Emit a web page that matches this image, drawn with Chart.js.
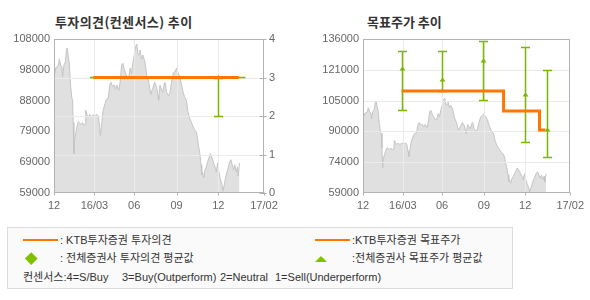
<!DOCTYPE html>
<html><head><meta charset="utf-8">
<script src="https://cdn.jsdelivr.net/npm/chart.js@4/dist/chart.umd.min.js"></script>
<style>
html,body{margin:0;padding:0;background:#fff;}
body{width:590px;height:300px;position:relative;overflow:hidden;font-family:"Liberation Sans","Noto Sans CJK KR",sans-serif;}
canvas{position:absolute;top:0;}
.title{position:absolute;top:14px;font:bold 13px "Noto Sans CJK KR",sans-serif;color:#333;line-height:15px;white-space:nowrap;}
#legend{position:absolute;left:7px;top:227px;width:504px;height:60px;border:1px solid #dcdcdc;background:#fafafa;}
.lt{position:absolute;font-size:11px;line-height:14px;color:#333;white-space:pre;}
.oline{position:absolute;height:2px;background:#ff7700;}
</style></head>
<body>
<div class="title" style="left:55px;letter-spacing:0.4px">투자의견(컨센서스) 추이</div>
<div class="title" style="left:367px">목표주가 추이</div>
<canvas id="c1" width="295" height="215" style="left:0;width:295px;height:215px"></canvas>
<canvas id="c2" width="295" height="215" style="left:295px;width:295px;height:215px"></canvas>
<div id="legend"></div>
<div class="oline" style="left:23px;top:239px;width:35px"></div>
<div class="lt" style="left:60px;top:233px">: KTB투자증권 투자의견</div>
<div class="oline" style="left:315px;top:239px;width:35px"></div>
<div class="lt" style="left:352px;top:233px">:KTB투자증권 목표주가</div>
<div style="position:absolute;left:26.5px;top:254px;width:8.5px;height:8.5px;background:#80c000;transform:rotate(45deg)"></div>
<div class="lt" style="left:60px;top:251px">: 전체증권사 투자의견 평균값</div>
<div style="position:absolute;left:315px;top:256px;width:0;height:0;border-left:6.5px solid transparent;border-right:6.5px solid transparent;border-bottom:6px solid #80c000"></div>
<div class="lt" style="left:352px;top:251px">:전체증권사 목표주가 평균값</div>
<div class="lt" style="left:23px;top:270px">컨센서스:4=S/Buy</div>
<div class="lt" style="left:122px;top:270px">3=Buy(Outperform)</div>
<div class="lt" style="left:220px;top:270px">2=Neutral</div>
<div class="lt" style="left:275px;top:270px">1=Sell(Underperform)</div>
<script>
// ---- data ----
const xTickDays   = [0, 61, 121, 185, 248, 317];
const xTickLabels = ['12', '16/03', '06', '09', '12', '17/02'];

const priceDays = [
  0,3,5,7,8,10,12,13,15,17,
  19,20,22,23,25,27,28,29,30,31,
  33,35,37,39,41,43,45,47,48,50,
  52,54,56,59,61,63,65,67,69,70,
  72,74,77,79,82,84,86,88,91,93,
  95,98,100,102,104,106,108,111,113,115,
  117,119,121,123,125,127,129,130,132,134,
  137,138,140,143,146,149,152,155,157,158,
  160,164,167,168,170,173,175,178,180,183,
  185,187,190,192,195,197,200,202,205,207,
  210,212,215,217,218,220,222,223,224,226,
  228,230,232,234,236,238,240,242,244,245,
  247,249,251,253,255,257,259,261,263,265,
  267,269,271,273,275,277,278,280];
const priceValues = [
  96000,99000,99000,100000,101600,99700,99000,96000,99700,100600,
  104800,105100,101600,100600,93300,89100,88800,81400,71500,76000,
  78200,80500,81700,81100,80800,81400,80500,80800,85300,83700,
  83300,84000,83300,83700,84000,83700,84000,83300,79800,77300,
  81000,85000,87500,88800,89100,93300,94200,93000,93300,92000,
  93300,91700,94500,99700,100300,98400,97100,95500,95800,98700,
  97100,100300,102900,105400,106400,102900,103200,104500,101600,102900,
  101000,99700,96500,94300,90400,92300,94200,92600,90000,88500,
  93300,91000,94200,93900,91000,90000,91000,94900,97100,97800,
  98700,97400,95800,93900,91000,89700,88500,85000,82700,81700,
  80100,79200,78400,76000,74000,71800,68000,64800,65700,63800,
  66400,67300,68900,70200,71500,70500,69200,68000,66700,65700,
  68600,65700,63500,62200,59600,61600,63800,65700,67000,68900,
  69600,68000,66400,68000,65700,67300,64400,68600];

const priceTickLabelsL = ['59000','69000','79000','88000','98000','108000'];
const priceTickLabelsR = ['59000','74000','90000','105000','121000','136000'];
const opinionTickLabels = ['0','1','2','3','4'];

const ktbOpinionDays = [59, 279];
const ktbOpinionValues = [3, 3];
const consOpinionDays = [54, 289];
const consOpinionValues = [3, 3];
const consOpinionBarDays = [248];
const consOpinionHigh = [3];
const consOpinionMean = [3];
const consOpinionLow  = [2];

const ktbTargetDays   = [59, 215, 270, 279];
const ktbTargetValues = [110000, 100000, 90500, 90500];
const consTargetDays = [60, 121, 184, 248, 282];
const consTargetHigh = [130000, 130000, 135000, 132000, 120500];
const consTargetMean = [121000, 115500, 125000, 108000, 90500];
const consTargetLow  = [100500, 110000, 105500, 84500, 77000];

// ---- styling ----
const ORANGE = '#ff7700', GREEN = '#7ab800';
const TXT = '#666';
const FONT = {family: '"Liberation Sans", Arial, sans-serif', size: 11};

function pts(xs, ys) { return xs.map((x, i) => ({x: x, y: ys[i]})); }

function makeOverlay(gridAxis, barAxis, bars, innerTicks) {
  return {
    id: 'overlay_' + gridAxis,
    afterDatasetDraw(chart, args) {
      if (args.index !== 0) return;
      const ctx = chart.ctx, a = chart.chartArea;
      const xs = chart.scales.x, ys = chart.scales[gridAxis];
      const L = Math.round(a.left) + 0.5, R = Math.round(a.right) - 0.5;
      const T = Math.round(a.top) + 0.5, B = Math.round(a.bottom) - 0.5;
      ctx.save();
      ctx.lineWidth = 1;
      ctx.strokeStyle = '#ebebeb';
      ctx.beginPath();
      xTickDays.forEach(d => {
        if (d <= xs.min || d >= xs.max) return;
        const px = Math.round(xs.getPixelForValue(d)) + 0.5;
        ctx.moveTo(px, T); ctx.lineTo(px, B);
      });
      ys.ticks.forEach(t => {
        if (t.value <= ys.min || t.value >= ys.max) return;
        const py = Math.round(ys.getPixelForValue(t.value)) + 0.5;
        ctx.moveTo(L, py); ctx.lineTo(R, py);
      });
      ctx.stroke();
      ctx.strokeStyle = '#b2b2b2';
      ctx.strokeRect(L, T, R - L, B - T);
      ctx.beginPath();
      xTickDays.forEach(d => {
        const px = Math.round(xs.getPixelForValue(d)) + 0.5;
        ctx.moveTo(px, B); ctx.lineTo(px, B + 3);
      });
      if (innerTicks) {
        ys.ticks.forEach(t => {
          const py = Math.round(ys.getPixelForValue(t.value)) + 0.5;
          ctx.moveTo(R - 4, py); ctx.lineTo(R + 3, py);
        });
      }
      ctx.stroke();
      // consensus range bars
      const by = chart.scales[barAxis];
      ctx.strokeStyle = GREEN; ctx.fillStyle = GREEN; ctx.lineWidth = 1.5;
      bars.days.forEach((d, i) => {
        const px = Math.round(xs.getPixelForValue(d)) + 0.5;
        const yH = Math.round(by.getPixelForValue(bars.high[i])) + 0.5;
        const yM = by.getPixelForValue(bars.mean[i]);
        const yL = Math.round(by.getPixelForValue(bars.low[i])) + 0.5;
        ctx.beginPath();
        ctx.moveTo(px, yH); ctx.lineTo(px, yL);
        ctx.moveTo(px - 4.5, yH); ctx.lineTo(px + 4.5, yH);
        ctx.moveTo(px - 4.5, yL); ctx.lineTo(px + 4.5, yL);
        ctx.stroke();
        ctx.beginPath();
        ctx.moveTo(px - 3, yM + 1.5); ctx.lineTo(px + 3, yM + 1.5); ctx.lineTo(px, yM - 2.5);
        ctx.closePath(); ctx.fill();
      });
      ctx.restore();
    }
  };
}

function evenTicks(labels) {
  return function (scale) {
    const n = labels.length;
    scale.ticks = labels.map((_, i) => ({value: scale.min + i * (scale.max - scale.min) / (n - 1)}));
  };
}

function xScale() {
  return {
    type: 'linear', position: 'bottom',
    min: xTickDays[0], max: xTickDays[xTickDays.length - 1],
    grid: {display: false, drawTicks: false},
    border: {display: false},
    afterBuildTicks: s => { s.ticks = xTickDays.map(v => ({value: v})); },
    afterFit: s => { s.height = 22; },
    ticks: {autoSkip: false, maxRotation: 0, padding: 6, color: TXT, font: FONT,
            callback: (v, i) => xTickLabels[i]}
  };
}

const priceArea = {
  type: 'line', label: 'price', order: 10,
  data: pts(priceDays, priceValues),
  borderColor: '#c4c4c4', borderWidth: 1, backgroundColor: '#e0e0e0',
  fill: 'start', pointRadius: 0, tension: 0
};

// ---- left chart: investment opinion ----
new Chart(document.getElementById('c1'), {
  type: 'line',
  data: {datasets: [
    Object.assign({}, priceArea, {yAxisID: 'yP'}),
    {label: 'cons', order: 5, yAxisID: 'yO', data: pts(consOpinionDays, consOpinionValues),
     borderColor: GREEN, borderWidth: 1.5, pointRadius: 0, fill: false},
    {label: 'ktb', order: 0, yAxisID: 'yO', data: pts(ktbOpinionDays, ktbOpinionValues),
     borderColor: ORANGE, borderWidth: 3, pointRadius: 0, fill: false, borderCapStyle: 'butt'}
  ]},
  options: {
    responsive: false, animation: false, devicePixelRatio: 1,
    layout: {padding: {top: 39, left: 0, right: 0, bottom: 0}},
    plugins: {legend: {display: false}, tooltip: {enabled: false}},
    scales: {
      x: xScale(),
      yP: {type: 'linear', position: 'left', min: 59000, max: 108000,
           grid: {display: false, drawTicks: false}, border: {display: false},
           afterBuildTicks: evenTicks(priceTickLabelsL),
           afterFit: s => { s.width = 54; },
           ticks: {padding: 4, color: TXT, font: FONT, callback: (v, i) => priceTickLabelsL[i]}},
      yO: {type: 'linear', position: 'right', min: 0, max: 4,
           grid: {display: false, drawTicks: false}, border: {display: false},
           afterBuildTicks: evenTicks(opinionTickLabels),
           afterFit: s => { s.width = 31; },
           ticks: {padding: 5, color: TXT, font: FONT, callback: (v, i) => opinionTickLabels[i]}}
    }
  },
  plugins: [makeOverlay('yO', 'yO',
    {days: consOpinionBarDays, high: consOpinionHigh, mean: consOpinionMean, low: consOpinionLow}, true)]
});

// ---- right chart: target price ----
new Chart(document.getElementById('c2'), {
  type: 'line',
  data: {datasets: [
    Object.assign({}, priceArea, {yAxisID: 'yT'}),
    {label: 'ktbTarget', order: 0, yAxisID: 'yT', data: pts(ktbTargetDays, ktbTargetValues),
     borderColor: ORANGE, borderWidth: 3, pointRadius: 0, fill: false, stepped: 'before',
     borderJoinStyle: 'miter', borderCapStyle: 'butt'}
  ]},
  options: {
    responsive: false, animation: false, devicePixelRatio: 1,
    layout: {padding: {top: 39, left: 0, right: 17, bottom: 0}},
    plugins: {legend: {display: false}, tooltip: {enabled: false}},
    scales: {
      x: xScale(),
      yT: {type: 'linear', position: 'left', min: 59000, max: 136000,
           grid: {display: false, drawTicks: false}, border: {display: false},
           afterBuildTicks: evenTicks(priceTickLabelsR),
           afterFit: s => { s.width = 68; },
           ticks: {padding: 4, color: TXT, font: FONT, callback: (v, i) => priceTickLabelsR[i]}}
    }
  },
  plugins: [makeOverlay('yT', 'yT',
    {days: consTargetDays, high: consTargetHigh, mean: consTargetMean, low: consTargetLow}, false)]
});
</script>
</body></html>
